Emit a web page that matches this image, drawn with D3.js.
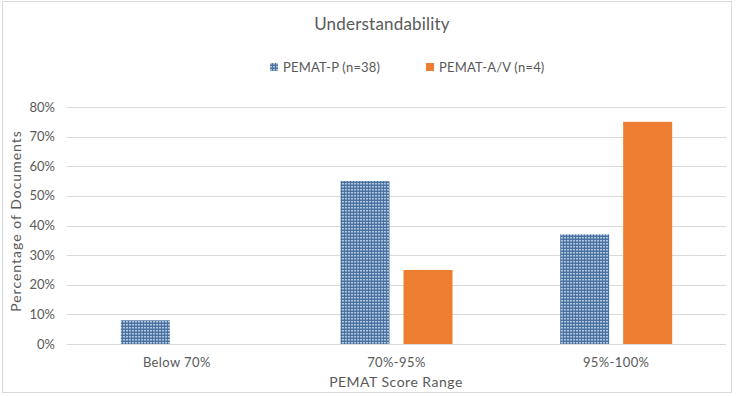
<!DOCTYPE html>
<html>
<head>
<meta charset="utf-8">
<script src="https://cdn.jsdelivr.net/npm/d3@7"></script>
<style>
  body { margin: 0; background: #fff; }
  text { font-family: Lato, "Open Sans", sans-serif; fill: #595959; }
</style>
</head>
<body>
<script>
// chart data
const categories = ["Below 70%", "70%-95%", "95%-100%"];
const seriesNames = ["PEMAT-P (n=38)", "PEMAT-A/V (n=4)"];
const pematP = [0.08, 0.55, 0.37];
const pematAV = [0, 0.25, 0.75];
const yTicks = [0, 0.1, 0.2, 0.3, 0.4, 0.5, 0.6, 0.7, 0.8];

function main(){
    const canvasWidth = 736;
    const canvasHeight = 396;

    const svg = d3.select("body").append("svg")
        .attr("width", canvasWidth)
        .attr("height", canvasHeight);

    // chart border
    svg.append("rect")
        .attr("x", 2.5).attr("y", 1.5)
        .attr("width", 729).attr("height", 391)
        .attr("fill", "white")
        .attr("stroke", "#d9d9d9");

    // checker pattern for PEMAT-P
    const defs = svg.append("defs");
    const pat = defs.append("pattern")
        .attr("id", "checker")
        .attr("patternUnits", "userSpaceOnUse")
        .attr("width", 3).attr("height", 3);
    pat.append("rect").attr("width", 3).attr("height", 3).attr("fill", "#4a72a0");
    pat.append("rect").attr("x", 0).attr("y", 0).attr("width", 2).attr("height", 1).attr("fill", "#b3c7de");
    pat.append("rect").attr("x", 0).attr("y", 1).attr("width", 2).attr("height", 1).attr("fill", "#7f9dc0");

    const left = 67, right = 726, top = 107, bottom = 344;

    const xScale = d3.scaleBand().domain(categories).range([left, right]);
    const yScale = d3.scaleLinear().domain([0, 0.8]).range([bottom, top]);

    const barW = 49, gap = 14;

    // gridlines
    svg.append("g")
        .selectAll("line")
        .data(yTicks)
        .enter().append("line")
        .attr("x1", left).attr("x2", right)
        .attr("y1", d => Math.round(yScale(d)) + 0.5)
        .attr("y2", d => Math.round(yScale(d)) + 0.5)
        .attr("stroke", "#d9d9d9")
        .attr("stroke-width", 1);

    // y tick labels
    svg.append("g")
        .selectAll("text")
        .data(yTicks)
        .enter().append("text")
        .attr("x", 55)
        .attr("y", d => yScale(d))
        .attr("dy", "0.35em")
        .attr("text-anchor", "end")
        .attr("font-size", "13px")
        .text(d => d3.format(".0%")(d));

    // bars
    const center = c => xScale(c) + xScale.bandwidth() / 2;
    const groupStart = c => center(c) - (2 * barW + gap) / 2;

    svg.append("g")
        .selectAll("rect")
        .data(categories)
        .enter().append("rect")
        .attr("x", c => groupStart(c))
        .attr("y", (c, i) => yScale(pematP[i]))
        .attr("width", barW)
        .attr("height", (c, i) => yScale(0) - yScale(pematP[i]))
        .attr("fill", "url(#checker)");

    svg.append("g")
        .selectAll("rect")
        .data(categories)
        .enter().append("rect")
        .attr("x", c => groupStart(c) + barW + gap)
        .attr("y", (c, i) => yScale(pematAV[i]))
        .attr("width", barW)
        .attr("height", (c, i) => yScale(0) - yScale(pematAV[i]))
        .attr("fill", "#ed7d31");

    // x tick labels
    svg.append("g")
        .selectAll("text")
        .data(categories)
        .enter().append("text")
        .attr("x", c => center(c))
        .attr("y", 367)
        .attr("text-anchor", "middle")
        .attr("font-size", "13px")
        .attr("letter-spacing", "0.4px")
        .text(c => c);

    // axis titles
    svg.append("text")
        .attr("x", 396)
        .attr("y", 387)
        .attr("text-anchor", "middle")
        .attr("font-size", "14px")
        .attr("letter-spacing", "0.5px")
        .text("PEMAT Score Range");

    svg.append("text")
        .attr("transform", "translate(21,221) rotate(-90)")
        .attr("text-anchor", "middle")
        .attr("font-size", "14px")
        .attr("letter-spacing", "1px")
        .text("Percentage of Documents");

    // title
    svg.append("text")
        .attr("x", 382)
        .attr("y", 30)
        .attr("text-anchor", "middle")
        .attr("font-size", "17px")
        .attr("letter-spacing", "0.2px")
        .text("Understandability");

    // legend
    const legend = svg.append("g");
    const legendX = [270, 426];
    const legendFill = ["url(#checker)", "#ed7d31"];
    seriesNames.forEach((name, i) => {
        legend.append("rect")
            .attr("x", legendX[i]).attr("y", 63)
            .attr("width", 8).attr("height", 8)
            .attr("fill", legendFill[i]);
        legend.append("text")
            .attr("x", legendX[i] + 13)
            .attr("y", 72)
            .attr("font-size", "13px")
            .attr("letter-spacing", "0.2px")
            .text(name);
    });
}
main();
</script>
</body>
</html>
